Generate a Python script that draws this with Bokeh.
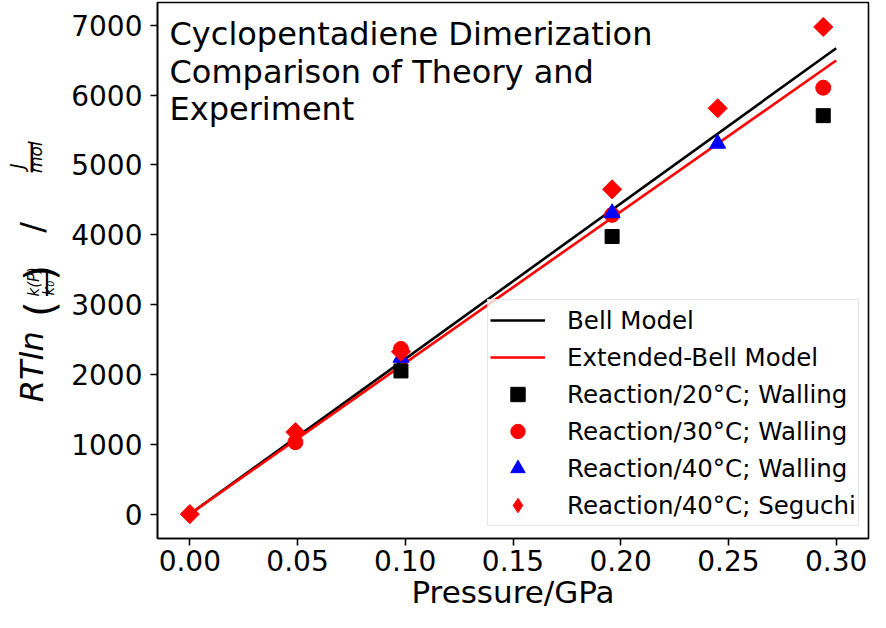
import math
from bokeh.plotting import figure
from bokeh.layouts import row
from bokeh.models import Range1d, FixedTicker, PrintfTickFormatter, Label, Legend, LegendItem
from bokeh.embed import file_html
from bokeh.resources import INLINE

FONT = "DejaVu Sans"

# ---- data ----
model_pressure = [0.0, 0.30]
bell_model = [0.0, 6670.0]
extended_bell_model = [0.0, 6495.0]

walling_20_pressure = [0.098, 0.196, 0.294]
walling_20_energy = [2050, 3975, 5705]
walling_30_pressure = [0.049, 0.098, 0.196, 0.294]
walling_30_energy = [1030, 2365, 4285, 6105]
walling_40_pressure = [0.098, 0.196, 0.245]
walling_40_energy = [2240, 4310, 5305]
seguchi_pressure = [0.0, 0.049, 0.098, 0.196, 0.245, 0.294]
seguchi_energy = [0, 1175, 2325, 4650, 5810, 6975]

x_ticks = [0.0, 0.05, 0.10, 0.15, 0.20, 0.25, 0.30]
y_ticks = [0, 1000, 2000, 3000, 4000, 5000, 6000, 7000]

legend_labels = ["Bell Model", "Extended-Bell Model",
                 "Reaction/20°C; Walling", "Reaction/30°C; Walling",
                 "Reaction/40°C; Walling", "Reaction/40°C; Seguchi"]
title_lines = ["Cyclopentadiene Dimerization", "Comparison of Theory and", "Experiment"]

H = 612
LW = 68  # width of the strip that carries the y-axis title

p = figure(width=870 - LW, height=H, output_backend="svg", toolbar_location=None,
           x_range=Range1d(-0.015, 0.315), y_range=Range1d(-349, 7325),
           min_border_left=82, min_border_right=2, min_border_top=2, min_border_bottom=0)
p.background_fill_color = "white"
p.border_fill_color = None
p.outline_line_color = "black"
p.outline_line_width = 1.6
p.xgrid.visible = False
p.ygrid.visible = False

for ax in (p.xaxis[0], p.yaxis[0]):
    ax.axis_line_color = "black"
    ax.axis_line_width = 1.6
    ax.major_tick_line_color = "black"
    ax.major_tick_line_width = 1.6
    ax.major_tick_out = 7
    ax.major_tick_in = 0
    ax.minor_tick_line_color = None
    ax.major_label_text_font = FONT
    ax.major_label_text_font_size = "28px"
    ax.major_label_text_color = "black"

p.xaxis.ticker = FixedTicker(ticks=x_ticks)
p.xaxis.formatter = PrintfTickFormatter(format="%.2f")
p.xaxis.major_label_standoff = 4
p.xaxis.axis_label = "Pressure/GPa"
p.xaxis.axis_label_text_font = FONT
p.xaxis.axis_label_text_font_size = "31px"
p.xaxis.axis_label_text_font_style = "normal"
p.xaxis.axis_label_text_color = "black"
p.xaxis.axis_label_standoff = 0

p.yaxis.ticker = FixedTicker(ticks=y_ticks)
p.yaxis.major_label_standoff = 8

# ---- marks ----
r_bell = p.line(model_pressure, bell_model, line_color="black", line_width=2.6)
r_ext = p.line(model_pressure, extended_bell_model, line_color="#ff0000", line_width=2.6)
r_w20 = p.scatter(walling_20_pressure, walling_20_energy, marker="square", size=14,
                  fill_color="black", line_color="black")
r_w30 = p.scatter(walling_30_pressure, walling_30_energy, marker="circle", size=15,
                  fill_color="#ff0000", line_color="#ff0000")
r_w40 = p.scatter(walling_40_pressure, walling_40_energy, marker="triangle", size=16,
                  fill_color="#0000ff", line_color="#0000ff")
# diamond symbol used for the legend sample (hidden under the rotated squares)
r_seg_key = p.scatter(seguchi_pressure, seguchi_energy, marker="diamond", size=12,
                      fill_color="#ff0000", line_color="#ff0000")
r_seg = p.scatter(seguchi_pressure, seguchi_energy, marker="square", angle=math.pi / 4, size=13.5,
                  fill_color="#ff0000", line_color="#ff0000")

legend = Legend(items=[LegendItem(label=lab, renderers=[r]) for lab, r in
                       zip(legend_labels, [r_bell, r_ext, r_w20, r_w30, r_w40, r_seg_key])],
                location=(330, 12))
legend.label_text_font = FONT
legend.label_text_font_size = "24.5px"
legend.label_text_color = "black"
legend.label_height = 36
legend.glyph_height = 36
legend.glyph_width = 55
legend.label_standoff = 22
legend.spacing = 1
legend.padding = 2
legend.margin = 0
legend.border_line_color = "#cccccc"
legend.border_line_width = 1.3
legend.background_fill_color = "white"
legend.background_fill_alpha = 0.8
p.add_layout(legend)

# ---- title text inside the frame ----
def ref_y(py):
    return (523.3 - py) / 0.0713

for line, py in zip(title_lines, [33.3, 71.7, 110.1]):
    p.add_layout(Label(x=12, y=ref_y(py), x_units="screen", y_units="data", text=line,
                       text_font=FONT, text_font_size="32px", text_color="black",
                       text_baseline="alphabetic", text_align="left"))

# ---- strip with the rotated y-axis title (its frame is aligned with the main frame) ----
q = figure(width=LW, height=H, output_backend="svg", toolbar_location=None,
           x_range=Range1d(0, LW), y_range=Range1d(548, 1),
           x_axis_location=None, y_axis_location=None,
           min_border_left=0, min_border_right=0, min_border_top=0, min_border_bottom=0)
q.outline_line_color = None
q.xgrid.visible = False
q.ygrid.visible = False
q.background_fill_color = "white"
q.border_fill_color = "white"

DX = -6  # horizontal shift of the whole y-axis title

def ylab(text, px, py, size, style="normal"):
    q.add_layout(Label(x=px + DX, y=py, text=text, angle=math.pi / 2,
                       text_font=FONT, text_font_size=size,
                       text_font_style=style, text_color="black",
                       text_baseline="alphabetic", text_align="left"))

ylab("RTln", 37, 409, "32px", "italic")
ylab("(", 45, 322, "40px")
ylab("k(P)", 39, 301, "15px", "italic")
ylab("\u2014", 50, 302, "30px")
ylab("k\u2080", 54, 300, "15px", "italic")
ylab(")", 45, 285, "40px")
ylab("/", 37, 236, "32px")
ylab("J", 22, 171, "19px", "italic")
ylab("\u2014", 35, 176, "33px")
ylab("mol", 41, 175, "17px", "italic")

layout = row(q, p, spacing=0)
open("out.html", "w").write(file_html(layout, INLINE))
